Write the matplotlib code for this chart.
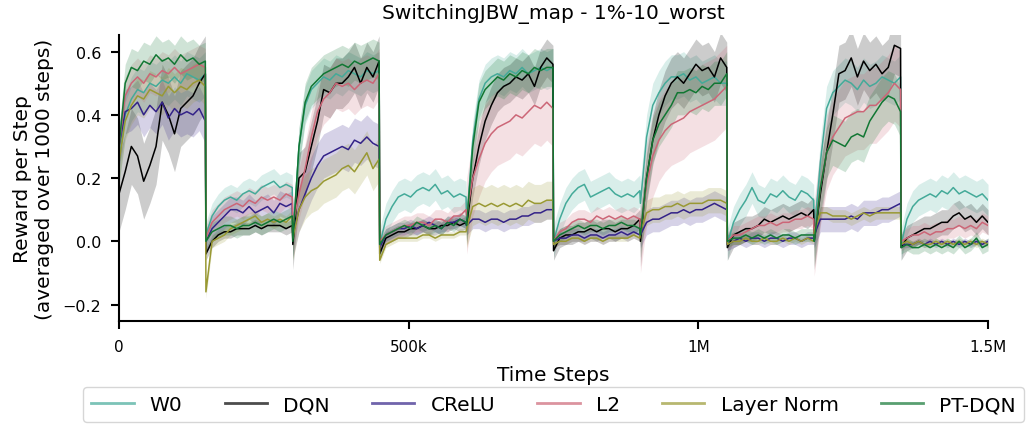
import numpy as np
import matplotlib
matplotlib.use("Agg")
import matplotlib.pyplot as plt

# 15 samples per 150k-step task phase (the last phase has 16)
w0 = [
    0.25, 0.40, 0.45, 0.48, 0.47, 0.50, 0.49, 0.51, 0.50, 0.52, 0.50, 0.53, 0.52, 0.51, 0.53,
    0.02, 0.08, 0.11, 0.13, 0.14, 0.13, 0.15, 0.16, 0.15, 0.17, 0.18, 0.19, 0.17, 0.18, 0.17,
    0.00, 0.30, 0.43, 0.48, 0.50, 0.52, 0.51, 0.53, 0.52, 0.54, 0.53, 0.52, 0.54, 0.53, 0.54,
    -0.01, 0.07, 0.11, 0.14, 0.15, 0.14, 0.16, 0.17, 0.16, 0.18, 0.15, 0.16, 0.14, 0.15, 0.14,
    0.06, 0.32, 0.45, 0.50, 0.52, 0.53, 0.52, 0.54, 0.53, 0.55, 0.53, 0.54, 0.55, 0.54, 0.55,
    0.00, 0.07, 0.12, 0.15, 0.17, 0.18, 0.14, 0.15, 0.16, 0.17, 0.15, 0.14, 0.15, 0.14, 0.16,
    0.12, 0.33, 0.43, 0.47, 0.50, 0.52, 0.52, 0.53, 0.51, 0.52, 0.50, 0.51, 0.52, 0.50, 0.50,
    -0.01, 0.06, 0.10, 0.13, 0.17, 0.13, 0.12, 0.15, 0.14, 0.16, 0.14, 0.13, 0.16, 0.15, 0.13,
    0.02, 0.25, 0.42, 0.47, 0.49, 0.51, 0.50, 0.48, 0.51, 0.49, 0.50, 0.52, 0.51, 0.50, 0.52,
    -0.01, 0.07, 0.11, 0.13, 0.14, 0.15, 0.14, 0.16, 0.15, 0.17, 0.15, 0.16, 0.15, 0.14, 0.15, 0.13,
]
dqn = [
    0.15, 0.22, 0.30, 0.27, 0.19, 0.24, 0.30, 0.44, 0.40, 0.34, 0.42, 0.44, 0.46, 0.50, 0.53,
    -0.04, 0.00, 0.02, 0.03, 0.03, 0.04, 0.04, 0.04, 0.05, 0.04, 0.05, 0.05, 0.05, 0.04, 0.05,
    -0.01, 0.20, 0.22, 0.30, 0.38, 0.48, 0.47, 0.50, 0.50, 0.52, 0.55, 0.50, 0.55, 0.52, 0.57,
    -0.04, 0.01, 0.02, 0.03, 0.03, 0.04, 0.04, 0.05, 0.04, 0.04, 0.05, 0.05, 0.06, 0.05, 0.06,
    0.05, 0.20, 0.30, 0.38, 0.43, 0.47, 0.49, 0.50, 0.52, 0.51, 0.53, 0.49, 0.55, 0.58, 0.56,
    -0.03, 0.01, 0.02, 0.02, 0.03, 0.03, 0.04, 0.03, 0.04, 0.04, 0.03, 0.04, 0.04, 0.05, 0.07,
    0.00, 0.20, 0.32, 0.40, 0.46, 0.50, 0.52, 0.50, 0.53, 0.56, 0.54, 0.55, 0.52, 0.58, 0.55,
    -0.02, 0.02, 0.03, 0.04, 0.04, 0.05, 0.07, 0.06, 0.07, 0.08, 0.07, 0.08, 0.09, 0.08, 0.10,
    0.00, 0.15, 0.28, 0.40, 0.53, 0.54, 0.58, 0.52, 0.57, 0.54, 0.56, 0.53, 0.55, 0.62, 0.61,
    -0.02, 0.01, 0.02, 0.03, 0.04, 0.04, 0.05, 0.06, 0.06, 0.08, 0.09, 0.07, 0.08, 0.06, 0.08, 0.06,
]
crelu = [
    0.30, 0.41, 0.42, 0.44, 0.40, 0.43, 0.41, 0.44, 0.39, 0.42, 0.40, 0.41, 0.40, 0.42, 0.38,
    0.00, 0.04, 0.06, 0.08, 0.10, 0.10, 0.09, 0.11, 0.09, 0.10, 0.11, 0.09, 0.12, 0.11, 0.12,
    0.02, 0.10, 0.15, 0.20, 0.24, 0.27, 0.28, 0.29, 0.30, 0.29, 0.32, 0.31, 0.33, 0.31, 0.30,
    -0.02, 0.02, 0.03, 0.04, 0.04, 0.05, 0.04, 0.05, 0.06, 0.05, 0.04, 0.06, 0.06, 0.07, 0.06,
    0.05, 0.07, 0.07, 0.06, 0.07, 0.07, 0.06, 0.07, 0.07, 0.08, 0.08, 0.09, 0.09, 0.10, 0.10,
    0.00, 0.01, 0.01, 0.02, 0.02, 0.01, 0.02, 0.02, 0.01, 0.02, 0.02, 0.03, 0.02, 0.03, 0.02,
    0.02, 0.06, 0.07, 0.07, 0.08, 0.09, 0.09, 0.10, 0.09, 0.10, 0.10, 0.11, 0.12, 0.11, 0.10,
    -0.01, 0.00, 0.01, 0.00, 0.01, 0.01, 0.00, 0.01, 0.01, 0.00, 0.01, 0.01, 0.00, 0.01, 0.01,
    0.02, 0.07, 0.07, 0.07, 0.07, 0.07, 0.08, 0.07, 0.09, 0.09, 0.09, 0.10, 0.10, 0.11, 0.12,
    -0.01, -0.01, -0.01, 0.00, -0.01, 0.00, -0.01, 0.00, -0.01, 0.00, -0.01, 0.00, -0.01, 0.00, -0.01, 0.00,
]
l2 = [
    0.30, 0.46, 0.50, 0.52, 0.50, 0.53, 0.52, 0.54, 0.53, 0.55, 0.53, 0.54, 0.55, 0.56, 0.55,
    0.01, 0.06, 0.08, 0.10, 0.11, 0.12, 0.11, 0.13, 0.12, 0.14, 0.13, 0.14, 0.13, 0.15, 0.14,
    0.05, 0.15, 0.23, 0.33, 0.41, 0.45, 0.47, 0.50, 0.49, 0.50, 0.48, 0.50, 0.51, 0.50, 0.53,
    0.00, 0.02, 0.03, 0.04, 0.05, 0.05, 0.06, 0.06, 0.05, 0.07, 0.07, 0.06, 0.08, 0.08, 0.10,
    0.08, 0.20, 0.26, 0.31, 0.34, 0.36, 0.37, 0.38, 0.40, 0.39, 0.41, 0.43, 0.42, 0.44, 0.42,
    0.00, 0.03, 0.04, 0.06, 0.07, 0.07, 0.06, 0.08, 0.07, 0.08, 0.07, 0.08, 0.07, 0.08, 0.07,
    0.03, 0.18, 0.27, 0.32, 0.35, 0.37, 0.38, 0.39, 0.41, 0.42, 0.43, 0.44, 0.45, 0.47, 0.49,
    0.00, 0.02, 0.02, 0.03, 0.04, 0.05, 0.05, 0.06, 0.05, 0.06, 0.06, 0.07, 0.07, 0.08, 0.07,
    0.01, 0.17, 0.28, 0.33, 0.36, 0.39, 0.40, 0.41, 0.41, 0.43, 0.43, 0.45, 0.47, 0.50, 0.48,
    0.00, 0.01, 0.02, 0.02, 0.03, 0.02, 0.03, 0.03, 0.04, 0.04, 0.05, 0.04, 0.05, 0.04, 0.06, 0.05,
]
layer_norm = [
    0.25, 0.38, 0.43, 0.46, 0.45, 0.48, 0.47, 0.46, 0.49, 0.47, 0.49, 0.48, 0.50, 0.51, 0.49,
    -0.16, 0.00, 0.01, 0.02, 0.04, 0.05, 0.06, 0.07, 0.08, 0.06, 0.07, 0.06, 0.07, 0.06, 0.08,
    0.01, 0.10, 0.14, 0.16, 0.17, 0.19, 0.20, 0.21, 0.23, 0.24, 0.22, 0.25, 0.28, 0.23, 0.26,
    -0.06, -0.01, 0.00, 0.01, 0.01, 0.01, 0.01, 0.02, 0.02, 0.01, 0.02, 0.02, 0.02, 0.03, 0.03,
    0.04, 0.11, 0.12, 0.11, 0.12, 0.11, 0.12, 0.11, 0.12, 0.11, 0.13, 0.12, 0.12, 0.13, 0.13,
    -0.01, 0.00, 0.00, 0.01, 0.01, 0.00, 0.01, 0.01, 0.00, 0.01, 0.01, 0.01, 0.01, 0.02, 0.01,
    0.03, 0.09, 0.10, 0.10, 0.11, 0.11, 0.12, 0.11, 0.12, 0.12, 0.12, 0.13, 0.13, 0.13, 0.12,
    -0.01, 0.00, 0.00, 0.01, 0.00, 0.00, 0.01, 0.00, 0.00, 0.01, 0.00, 0.01, 0.00, 0.01, 0.00,
    0.03, 0.09, 0.09, 0.08, 0.08, 0.08, 0.07, 0.08, 0.09, 0.08, 0.09, 0.09, 0.09, 0.09, 0.09,
    -0.01, 0.00, -0.01, 0.00, -0.01, -0.01, 0.00, -0.01, 0.00, -0.01, 0.00, -0.01, 0.00, -0.01, 0.00, -0.01,
]
pt_dqn = [
    0.30, 0.50, 0.55, 0.54, 0.57, 0.56, 0.59, 0.57, 0.58, 0.56, 0.59, 0.57, 0.58, 0.56, 0.57,
    0.00, 0.03, 0.04, 0.05, 0.05, 0.04, 0.05, 0.05, 0.06, 0.05, 0.06, 0.07, 0.06, 0.07, 0.08,
    0.00, 0.30, 0.44, 0.49, 0.51, 0.53, 0.54, 0.55, 0.56, 0.55, 0.57, 0.56, 0.57, 0.58, 0.57,
    -0.01, 0.02, 0.03, 0.04, 0.05, 0.04, 0.06, 0.05, 0.04, 0.05, 0.04, 0.06, 0.05, 0.07, 0.06,
    0.05, 0.30, 0.44, 0.48, 0.50, 0.52, 0.51, 0.53, 0.52, 0.54, 0.53, 0.55, 0.54, 0.55, 0.55,
    0.00, 0.02, 0.03, 0.04, 0.05, 0.04, 0.05, 0.05, 0.04, 0.05, 0.05, 0.06, 0.05, 0.05, 0.04,
    0.02, 0.20, 0.32, 0.37, 0.40, 0.43, 0.47, 0.47, 0.48, 0.47, 0.49, 0.48, 0.50, 0.50, 0.53,
    0.00, 0.01, 0.01, 0.02, 0.01, 0.02, 0.01, 0.02, 0.01, 0.02, 0.02, 0.01, 0.02, 0.02, 0.02,
    0.00, 0.17, 0.28, 0.32, 0.31, 0.30, 0.33, 0.34, 0.33, 0.38, 0.41, 0.44, 0.46, 0.45, 0.41,
    -0.02, -0.01, -0.02, -0.02, -0.01, -0.02, -0.01, -0.02, -0.01, -0.02, 0.00, -0.02, -0.01, 0.01, -0.02, -0.01,
]

# half-width of the shaded band, one value per task phase
w0_band = [0.07, 0.04, 0.06, 0.05, 0.06, 0.05, 0.07, 0.05, 0.07, 0.05]
dqn_band = [0.12, 0.02, 0.08, 0.02, 0.06, 0.03, 0.08, 0.04, 0.09, 0.04]
crelu_band = [0.07, 0.04, 0.07, 0.02, 0.03, 0.02, 0.04, 0.02, 0.04, 0.01]
l2_band = [0.06, 0.04, 0.08, 0.03, 0.12, 0.03, 0.13, 0.03, 0.12, 0.03]
layer_norm_band = [0.06, 0.02, 0.07, 0.01, 0.06, 0.01, 0.04, 0.01, 0.02, 0.01]
pt_dqn_band = [0.06, 0.03, 0.06, 0.02, 0.06, 0.02, 0.07, 0.02, 0.08, 0.02]

labels = ["W0", "DQN", "CReLU", "L2", "Layer Norm", "PT-DQN"]
colors = ["#44AA99", "black", "#332288", "#CC6677", "#999933", "#117733"]
series = [w0, dqn, crelu, l2, layer_norm, pt_dqn]
bands = [w0_band, dqn_band, crelu_band, l2_band, layer_norm_band, pt_dqn_band]

# time axis: each phase sampled from its start up to just before the switch
phase_len = 150000
steps, phase = [], []
for p in range(10):
    n = 16 if p == 9 else 15
    end = phase_len if p == 9 else phase_len - 1000
    steps.extend(p * phase_len + np.linspace(0, end, n))
    phase.extend([p] * n)
steps = np.array(steps)
phase = np.array(phase)

fig = plt.figure(figsize=(10.26, 4.27), dpi=100)
ax = fig.add_axes([0.116, 0.246, 0.847, 0.670])

for lab, col, ys, bw in zip(labels, colors, series, bands):
    ys = np.array(ys)
    half = np.array(bw)[phase]
    ax.fill_between(steps, ys - half, ys + half, color=col, alpha=0.2, linewidth=0)
    ax.plot(steps, ys, color=col, linewidth=1.1, label=lab)

ax.set_xlim(0, 1500000)
ax.set_ylim(-0.252, 0.653)
ax.set_xticks([0, 500000, 1000000, 1500000])
ax.set_xticklabels(["0", "500k", "1M", "1.5M"], fontsize=11)
ax.set_yticks([-0.2, 0.0, 0.2, 0.4, 0.6])
ax.set_yticklabels(["\u22120.2", "0.0", "0.2", "0.4", "0.6"], fontsize=11.5)
ax.tick_params(direction="out", length=6, width=1.5, pad=7)

for side in ["top", "right"]:
    ax.spines[side].set_visible(False)
for side in ["left", "bottom"]:
    ax.spines[side].set_linewidth(1.5)

ax.set_title("SwitchingJBW_map - 1%-10_worst", fontsize=14.5, pad=12)
ax.set_xlabel("Time Steps", fontsize=14.5, labelpad=8)
ax.set_ylabel("Reward per Step\n(averaged over 1000 steps)", fontsize=14.5, labelpad=6)

leg = ax.legend(loc="upper center", bbox_to_anchor=(0.5, -0.232), ncol=6,
                fontsize=14.5, handlelength=2.1, handletextpad=0.8,
                columnspacing=2.1, borderaxespad=0)
for h in leg.get_lines():
    h.set_linewidth(2.0)
    h.set_alpha(0.7)

fig.savefig("out.png", dpi=100)
